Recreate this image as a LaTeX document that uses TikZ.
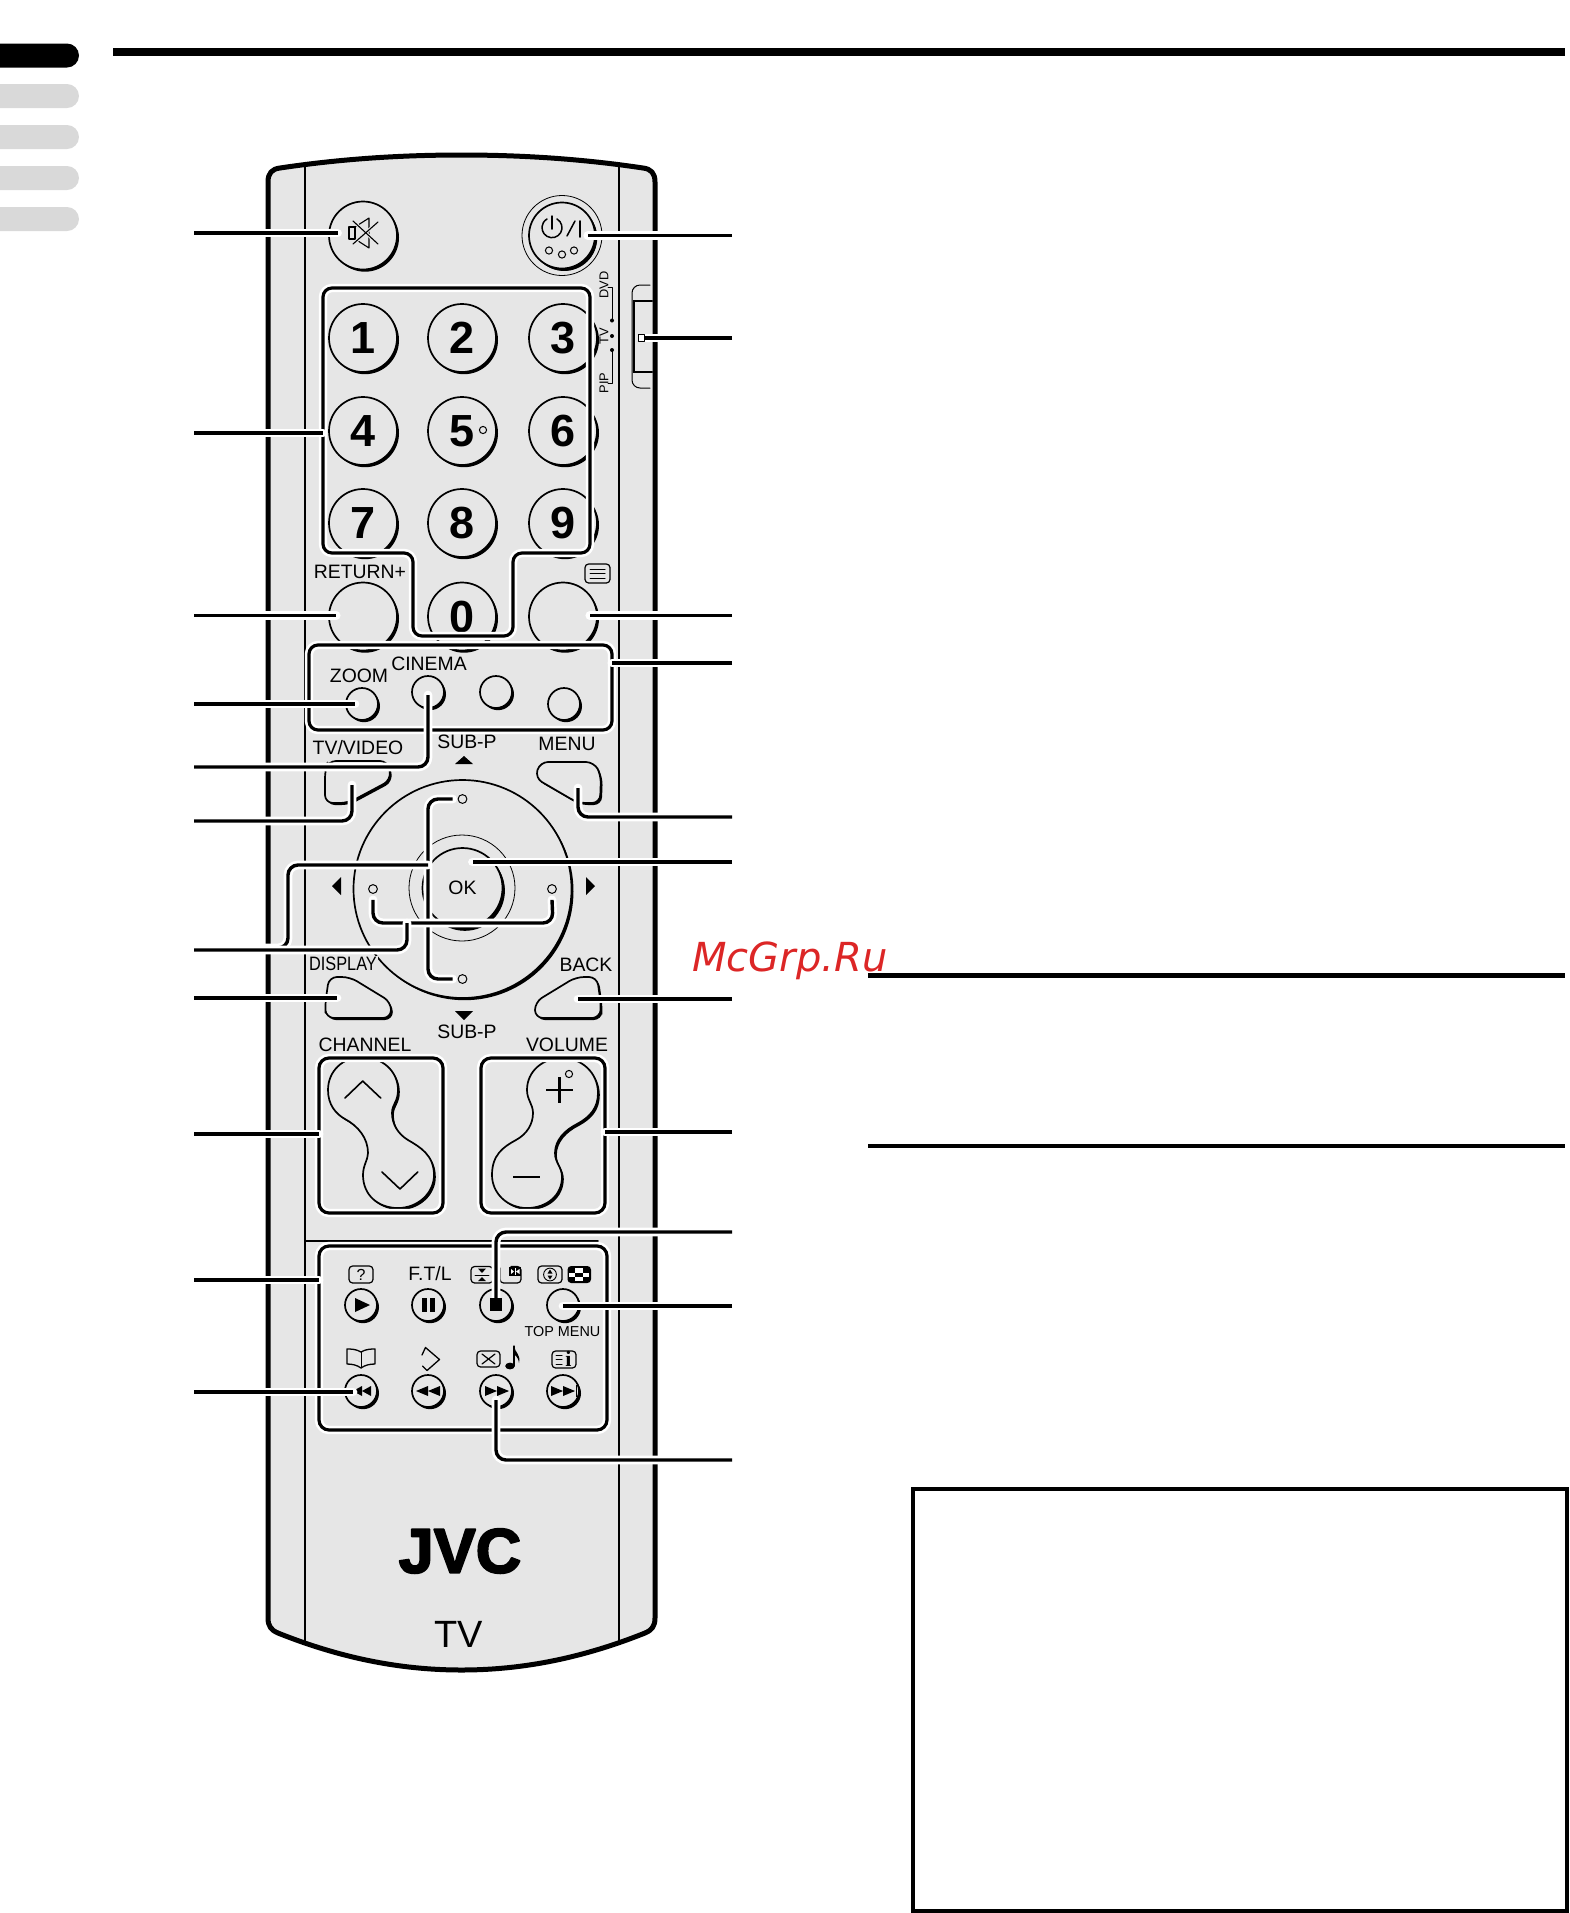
\documentclass[tikz,border=0pt]{standalone}
\usepackage{fontspec}
\setmainfont{Liberation Sans}
\newfontfamily\logofont[FakeBold=3]{Liberation Sans Bold}
\newfontfamily\iconserif{Liberation Serif Bold}
\newfontfamily\markfont{DejaVu Sans Oblique}
\usetikzlibrary{positioning}
\usetikzlibrary{shadows}
\definecolor{keygrey}{HTML}{E6E6E6}
\definecolor{tabgrey}{HTML}{D9D9D9}
\definecolor{markred}{HTML}{DC2626}
\tikzset{
  keybig/.style={circle,draw=black,fill=keygrey,line width=0.85pt,inner sep=0pt,minimum size=34pt,
    font=\fontsize{22.5}{22}\selectfont\bfseries,drop shadow={opacity=1,fill=black,shadow xshift=1pt,shadow yshift=-1.1pt}},
  keymid/.style={keybig,minimum size=16pt},
  keyshape/.style={draw=black,fill=keygrey,line width=0.85pt,rounded corners=4pt,
    drop shadow={opacity=1,fill=black,shadow xshift=0.9pt,shadow yshift=-1pt}},
  keyframe/.style={draw=black,line width=1.6pt,rounded corners=4.5pt,inner sep=0pt,outer sep=0pt,
    preaction={draw=white,line width=4.2pt}},
  leader/.style={draw=black,line width=1.7pt,line cap=butt,rounded corners=5pt,
    preaction={draw=white,line width=4.4pt}},
  labeltext/.style={inner sep=0pt,font=\fontsize{9.7}{10}\selectfont},
  dot/.style={circle,draw=black,fill=keygrey,line width=0.5pt,inner sep=0pt,minimum size=4.4pt},
  iconbox/.style={draw=black,line width=0.6pt,rounded corners=1.8pt},
  thinline/.style={draw=black,line width=0.85pt},
  arrowfill/.style={fill=black,draw=none},
  tabgreyed/.style={fill=tabgrey,rounded corners=6pt},
  rule/.style={draw=black,line width=2.3pt,line cap=butt}
}
\begin{document}
\begin{tikzpicture}[line cap=round,line join=round,x=0.5pt,y=-0.5pt]
\useasboundingbox (0,0) rectangle (1570,1913);
% tabs and rules
\fill [black,rounded corners=6pt] (-20,43.5) rectangle (79,67.5);
\fill [tabgreyed] (-20,84) rectangle (79,108);
\fill [tabgreyed] (-20,125) rectangle (79,149);
\fill [tabgreyed] (-20,166) rectangle (79,190);
\fill [tabgreyed] (-20,207) rectangle (79,231);
\draw [rule,line width=4pt] (113,52) -- (1565,52);
\draw [rule] (868,975.5) -- (1565,975.5);
\draw [rule] (868,1146) -- (1565,1146);
\draw [line width=1.9pt,line cap=butt,line join=miter] (913,1489) rectangle (1567,1911);
\node [anchor=base west,inner sep=0pt,text=markred,font=\fontsize{20}{20}\markfont] (watermark) at (692,971) {McGrp.Ru};
% body
\draw [fill=keygrey,line width=2.5pt] (268,182) .. controls (268,173) and (272,169) .. (280,168)
  .. controls (340,159) and (400,155) .. (461.5,155) .. controls (523,155) and (583,159) .. (643,168)
  .. controls (651,169) and (655,173) .. (655,182) -- (655,1618)
  .. controls (655,1626) and (652,1630) .. (645,1633) .. controls (585,1657) and (525,1670) .. (461.5,1670)
  .. controls (398,1670) and (338,1657) .. (278,1633) .. controls (271,1630) and (268,1626) .. (268,1618) -- cycle;
\draw [thinline] (305,164) -- (305,1642);
\draw [thinline] (619,164) -- (619,1642);
\draw [thinline] (305,1241) -- (598,1241);
% slider
\draw [line width=0.5pt,rounded corners=4pt] (650,285) -- (632,285) -- (632,388) -- (650,388);
\draw [line width=1.2pt,line join=miter] (652,301) -- (634,301) -- (634,372) -- (652,372);
\node [labeltext,font=\fontsize{6.4}{7}\selectfont,rotate=90] (dvd) at (604,285) {DVD};
\node [labeltext,font=\fontsize{6.4}{7}\selectfont,rotate=90] (tvpos) at (604,336) {TV};
\node [labeltext,font=\fontsize{6.4}{7}\selectfont,rotate=90] (pip) at (604,383) {PIP};
\draw [line width=0.4pt] (608,287) -- (612,287) -- (612,320.5);
\draw [line width=0.4pt] (612,350) -- (612,383) -- (608,383);
\fill (612,320.5) circle (1pt);
\fill (612,336) circle (1pt);
\fill (612,350) circle (1pt);
% top keys
\node [circle,draw=black,line width=0.4pt,inner sep=0pt,minimum size=40pt] (powerring) at (562,235.5) {};
\node [keybig] (mute) at (363,235.5) {};
\node [keybig,minimum size=33pt,drop shadow={opacity=1,fill=black,shadow xshift=1.1pt,shadow yshift=-1.2pt}] (power) at (562,235.5) {};
\draw [line width=0.55pt] (349,227) rectangle (355,239);
\draw [line width=0.55pt] (355,227) -- (369,218) -- (369,248) -- (355,239);
\draw [draw=keygrey,line width=1.6pt] (353,221) -- (378,244);
\draw [draw=keygrey,line width=1.6pt] (353,244) -- (378,222);
\draw [line width=0.55pt] (353,221) -- (378,244);
\draw [line width=0.55pt] (353,244) -- (378,222);
\draw [line width=0.75pt] (557,219) arc (-60:240:10);
\draw [line width=0.75pt] (552,216) -- (552,229);
\draw [line width=0.75pt] (567,236) -- (575,221);
\draw [line width=0.85pt] (580,221) -- (580,237);
\node [dot,fill=none,minimum size=3.6pt] (powera) at (549,250.5) {};
\node [dot,fill=none,minimum size=3.6pt] (powerb) at (562,254.5) {};
\node [dot,fill=none,minimum size=3.6pt] (powerc) at (574,250.5) {};
% number keys
\node [keybig] (one) at (363,338) {1};
\node [keybig] (two) at (462,338) {2};
\node [keybig] (three) at (563,338) {3};
\node [keybig] (four) at (363,431) {4};
\node [keybig] (five) at (462,431) {5};
\node [keybig] (six) at (563,431) {6};
\node [keybig] (seven) at (363,523) {7};
\node [keybig] (eight) at (462,523) {8};
\node [keybig] (nine) at (563,523) {9};
\node [keybig] (zero) at (462,616.5) {0};
\node [keybig] (returnkey) at (363,616.5) {};
\node [keybig] (textkey) at (563,616.5) {};
\node [dot,fill=none,minimum size=3.6pt] (fivedot) at (483,430) {};
\draw [iconbox] (585,564) rectangle (610,583);
\draw [line width=0.5pt] (590,569) -- (605,569);
\draw [line width=0.5pt] (590,573.5) -- (605,573.5);
\draw [line width=0.5pt] (590,578) -- (605,578);
\node [labeltext] (returnlabel) at (360,571.5) {RETURN+};
% four keys and frames
\node [keymid] (zoomkey) at (362,704) {};
\node [keymid] (cinema) at (428,692) {};
\node [keymid] (thirdkey) at (496,692) {};
\node [keymid] (fourthkey) at (564,704) {};
\draw [keyframe] (323,288) -- (590,288) -- (590,553) -- (513,553) -- (513,636) -- (413,636) -- (413,553) -- (323,553) -- cycle;
\node [keyframe,rectangle,minimum width=151.5pt,minimum height=42.5pt] (funcframe) at (460.5,687.5) {};
\node [labeltext] (zoomlabel) at (359,676) {ZOOM};
\node [labeltext] (cinemalabel) at (429,664) {CINEMA};
\node [labeltext] (tvvideolabel) at (358,748) {TV/VIDEO};
\node [labeltext] (menulabel) at (567,744) {MENU};
\node [labeltext] (subpup) at (467,742) {SUB-P};
\node [labeltext] (subpdown) at (467,1032) {SUB-P};
\node [labeltext] (backlabel) at (586,965) {BACK};
\node [labeltext] (channellabel) at (365,1045) {CHANNEL};
\node [labeltext] (volumelabel) at (567,1045) {VOLUME};
% cursor keys
\node [keybig,minimum size=109pt,drop shadow={opacity=1,fill=black,shadow xshift=0.5pt,shadow yshift=-0.6pt}] (dpad) at (462.5,889) {};
\node [circle,draw=black,line width=0.4pt,inner sep=0pt,minimum size=53pt] (okring) at (462,888) {};
\node [keybig,minimum size=40pt,font=\fontsize{9.7}{10}\selectfont,drop shadow={opacity=1,fill=black,shadow xshift=1.2pt,shadow yshift=-1.4pt}] (ok) at (462.5,888) {OK};
\node [dot] (dotn) at (462.5,799) {};
\node [dot] (dots) at (462.5,979) {};
\node [dot] (dotw) at (373,889) {};
\node [dot] (dote) at (552,889) {};
\fill [arrowfill] (455,764) -- (473,764) -- (464,756) -- cycle;
\fill [arrowfill] (455,1011) -- (473,1011) -- (464,1020) -- cycle;
\fill [arrowfill] (341,877) -- (341,895) -- (332,886) -- cycle;
\fill [arrowfill] (586,877) -- (586,895) -- (595,886) -- cycle;
\node [labeltext,fill=keygrey,inner sep=0.5pt,xscale=0.84] (displaylabel) at (343,964) {DISPLAY};
% shaped keys
\path [keyshape] (328,761) -- (388,761) -- (391,780) -- (348,803) -- (325,803) -- (325,770) -- cycle;
\path [keyshape] (540,762) -- (594,762) -- (601,775) -- (600,803) -- (578,803) -- (535,778) -- cycle;
\path [keyshape] (329,977) -- (350,977) -- (391,1002) -- (391,1018) -- (326,1018) -- (325,1005) -- cycle;
\path [keyshape] (597,977) -- (576,977) -- (535,1002) -- (535,1018) -- (600,1018) -- (601,1005) -- cycle;
\coordinate (tvvideotip) at (352,785);
\coordinate (menutip) at (578,788);
\coordinate (displaytip) at (337,998);
\coordinate (backtip) at (578,999);
% channel and volume
\path [keyshape,rounded corners=0pt] (328,1090) .. controls (328,1105) and (336,1114) .. (345,1119)
  .. controls (358,1126) and (368,1138) .. (368,1153) .. controls (368,1160) and (363,1165) .. (363,1175)
  .. controls (363,1195) and (378,1208) .. (398,1208) .. controls (418,1208) and (434,1193) .. (434,1175)
  .. controls (434,1155) and (420,1147) .. (408,1140) .. controls (398,1134) and (392,1124) .. (392,1113)
  .. controls (392,1104) and (398,1102) .. (398,1090) .. controls (398,1071) and (382,1057) .. (362,1057)
  .. controls (343,1057) and (328,1071) .. (328,1090) -- cycle;
\path [keyshape,rounded corners=0pt] (527,1090) .. controls (527,1100) and (533,1104) .. (533,1113)
  .. controls (533,1124) and (527,1134) .. (516,1140) .. controls (503,1147) and (492,1155) .. (492,1175)
  .. controls (492,1193) and (507,1208) .. (527,1208) .. controls (547,1208) and (562,1195) .. (562,1177)
  .. controls (562,1167) and (555,1163) .. (555,1153) .. controls (555,1140) and (565,1130) .. (577,1124)
  .. controls (590,1117) and (598,1108) .. (598,1093) .. controls (598,1073) and (582,1058) .. (562,1058)
  .. controls (543,1058) and (527,1071) .. (527,1090) -- cycle;
\draw [line width=0.8pt] (345,1098) -- (362.7,1081) -- (380.7,1098);
\draw [line width=0.8pt] (382,1172) -- (400,1189) -- (417.7,1172);
\draw [line width=1.1pt,line cap=butt] (546,1090) -- (573,1090);
\draw [line width=1.1pt,line cap=butt] (559.5,1077) -- (559.5,1103);
\draw [line width=1.1pt,line cap=butt] (513,1177) -- (540,1177);
\node [dot,fill=none,minimum size=3.6pt] (volumedot) at (569,1074) {};
\node [keyframe,rectangle,rounded corners=5pt,minimum width=62pt,minimum height=77.5pt] (chframe) at (381,1135.5) {};
\node [keyframe,rectangle,rounded corners=5pt,minimum width=62pt,minimum height=77.5pt] (volframe) at (543,1135.5) {};
% lower keys
\node [keymid] (playkey) at (361,1305) {};
\node [keymid] (pausekey) at (428,1305) {};
\node [keymid] (stopkey) at (496,1305) {};
\node [keymid] (topmenu) at (563,1305) {};
\node [keymid] (skipback) at (361,1391) {};
\node [keymid] (rewkey) at (428,1391) {};
\node [keymid] (ffkey) at (496,1391) {};
\node [keymid] (skipnext) at (563,1391) {};
\node [keyframe,rectangle,rounded corners=5pt,minimum width=144pt,minimum height=92pt] (lowerframe) at (463,1338) {};
\fill [arrowfill] (355,1298) -- (355,1312) -- (370,1305) -- cycle;
\fill [arrowfill] (421.5,1298) rectangle (426.5,1312);
\fill [arrowfill] (429.5,1298) rectangle (434.5,1312);
\fill [arrowfill] (362,1386) -- (362,1396) -- (353,1391) -- cycle;
\fill [arrowfill] (371,1386) -- (371,1396) -- (362,1391) -- cycle;
\fill [arrowfill] (428,1386) -- (428,1396) -- (416,1391) -- cycle;
\fill [arrowfill] (440,1386) -- (440,1396) -- (428,1391) -- cycle;
\fill [arrowfill] (485,1386) -- (485,1396) -- (497,1391) -- cycle;
\fill [arrowfill] (497,1386) -- (497,1396) -- (509,1391) -- cycle;
\fill [arrowfill] (551,1386) -- (551,1396) -- (563,1391) -- cycle;
\fill [arrowfill] (563,1386) -- (563,1396) -- (575,1391) -- cycle;
\draw [line width=0.7pt,line cap=butt] (576.5,1385) -- (576.5,1397);
% icons
\draw [iconbox] (349,1266) rectangle (373,1283);
\node [labeltext,font=\fontsize{8}{8}\selectfont] (helpicon) at (361,1274.5) {?};
\node [labeltext] (ftllabel) at (430,1274) {F.T/L};
\draw [iconbox] (471,1266.5) rectangle (493,1283);
\draw [line width=0.45pt] (475,1275) -- (489,1275);
\fill [arrowfill] (478,1268.5) -- (486,1268.5) -- (482,1273) -- cycle;
\fill [arrowfill] (478,1281) -- (486,1281) -- (482,1277) -- cycle;
\draw [iconbox] (500,1268) -- (500,1283) -- (521,1283) -- (521,1266.5) -- (511,1266.5);
\fill [arrowfill] (509,1266.5) rectangle (521,1276);
\draw [white,line width=0.35pt,line cap=butt] (515,1268) -- (515,1275);
\fill [white] (511,1269) -- (511,1274) -- (514,1271.5) -- cycle;
\fill [white] (519.5,1269) -- (519.5,1274) -- (516,1271.5) -- cycle;
\draw [iconbox] (538,1266) rectangle (562,1283);
\draw [line width=0.45pt] (550,1274.5) circle (3.2pt);
\fill [arrowfill] (547.5,1273.5) -- (552.5,1273.5) -- (550,1269.5) -- cycle;
\fill [arrowfill] (547.5,1275.5) -- (552.5,1275.5) -- (550,1279.5) -- cycle;
\fill [black,rounded corners=1.8pt] (567.5,1266) rectangle (591,1283);
\fill [white] (575,1268) rectangle (583,1272.5);
\fill [white] (569,1272.5) rectangle (575,1277);
\fill [white] (583,1272.5) rectangle (589,1277);
\fill [white] (575,1277) rectangle (583,1281);
\node [labeltext,font=\fontsize{7.2}{8}\selectfont] (topmenulabel) at (562.5,1332) {TOP MENU};
\draw [line width=0.65pt] (361,1352) .. controls (356,1349) and (351,1349) .. (347,1349) -- (347,1364)
  .. controls (352,1364) and (357,1365) .. (361,1368) .. controls (365,1365) and (370,1364) .. (375,1364)
  -- (375,1349) .. controls (371,1349) and (366,1349) .. (361,1352) -- cycle;
\draw [line width=0.45pt] (361,1352) -- (361,1368);
\draw [line width=0.65pt] (422,1355) -- (425.5,1347.5) -- (439.5,1359.5) -- (427,1370.5) -- (422.5,1366);
\draw [iconbox] (477,1351) rectangle (500,1367);
\draw [line width=0.6pt] (482,1354) -- (495,1364);
\draw [line width=0.6pt] (482,1364) -- (495,1354);
\fill (510,1366) ellipse (2.4pt and 1.7pt);
\draw [line width=0.6pt] (514,1366) -- (514,1346);
\fill (514,1346) .. controls (515,1353) and (521,1354) .. (519,1363) .. controls (518,1356) and (515,1356) .. (514,1354) -- cycle;
\draw [iconbox] (552,1351) rectangle (576,1368);
\draw [line width=0.5pt] (556,1355) -- (562,1355);
\draw [line width=0.5pt] (556,1359.5) -- (562,1359.5);
\draw [line width=0.5pt] (556,1364) -- (562,1364);
\node [inner sep=0pt,font=\fontsize{11}{11}\iconserif] (infoicon) at (568.5,1359) {i};
% logo
\node [inner sep=0pt,font=\fontsize{31.5}{33}\logofont] (logo) at (460,1551) {JVC};
\node [inner sep=0pt,font=\fontsize{19}{19}\selectfont] (tvlabel) at (459,1634) {TV};
% leader ends
\coordinate (lmute) at (194,233);
\coordinate (lpad) at (194,433);
\coordinate (padedge) at (323,433);
\coordinate (lreturn) at (194,615.5);
\coordinate (lzoom) at (194,704);
\coordinate (lcinema) at (194,767);
\coordinate (ltvvideo) at (194,821);
\coordinate (lcursa) at (194,948);
\coordinate (lcursb) at (194,950);
\coordinate (ldisplay) at (194,998);
\coordinate (lchannel) at (194,1134);
\coordinate (llower) at (194,1280);
\coordinate (lskip) at (194,1392);
\coordinate (rpower) at (732,235.5);
\coordinate (rslider) at (732,338);
\coordinate (slidertip) at (645,338);
\coordinate (rtext) at (732,615.5);
\coordinate (rfunc) at (732,663);
\coordinate (rmenu) at (732,817);
\coordinate (rok) at (732,862);
\coordinate (rback) at (732,999);
\coordinate (rvolume) at (732,1132);
\coordinate (rstop) at (732,1232);
\coordinate (rtop) at (732,1306);
\coordinate (rff) at (732,1460);
% leaders
\draw [leader] (lmute) -- ([xshift=4.7pt]mute.west |- lmute);
\draw [leader] (lpad) -- (padedge);
\draw [leader] (lreturn) -- ([xshift=4pt]returnkey.west |- lreturn);
\draw [leader] (lzoom) -- ([xshift=-3.5pt]zoomkey.center);
\draw [leader] (lcinema) -| ([yshift=-1.5pt]cinema.center);
\draw [leader] (ltvvideo) -| (tvvideotip);
\draw [leader] (ldisplay) -- (displaytip);
\draw [leader] (lchannel) -- (chframe.west |- lchannel);
\draw [leader] (llower) -- (lowerframe.west |- llower);
\draw [leader] (lskip) -- ([xshift=-4pt]skipback.center |- lskip);
\draw [leader] (rpower) -- ([xshift=-4pt]power.east |- rpower);
\draw [leader] (rslider) -- (slidertip);
\node [draw=black,fill=white,line width=0.5pt,inner sep=0pt,minimum size=3.2pt] (sliderpin) at (641.5,338) {};
\draw [leader] (rtext) -- ([xshift=-4pt]textkey.east |- rtext);
\draw [leader] (rfunc) -- (funcframe.east |- rfunc);
\draw [leader] (rmenu) -| (menutip);
\draw [leader] (rback) -- (backtip);
\draw [leader] (rvolume) -- (volframe.east |- rvolume);
\draw [leader] (rstop) -| (stopkey.center);
\fill [arrowfill] (490,1298) rectangle (502,1311);
\draw [leader] (rtop) -- (topmenu.center |- rtop);
\draw [leader] (rff) -| ([yshift=-4.5pt]ffkey.center);
% cursor leaders
\draw [leader] ([xshift=-2.5pt]dotn.west) -- (428,799) -- (428,979) -- ([xshift=-2.5pt]dots.west);
\draw [leader] (428,865) -- (288,865) -- (288,948) -- (lcursa);
\draw [leader] ([yshift=-3pt]dotw.south) -- (373,923) -- (553,923) -- ([yshift=-3pt]dote.south);
\draw [leader] (407,923) -- (407,950) -- (lcursb);
\draw [leader] (rok) -- ([xshift=5pt]ok.center |- rok);
\end{tikzpicture}
\end{document}
